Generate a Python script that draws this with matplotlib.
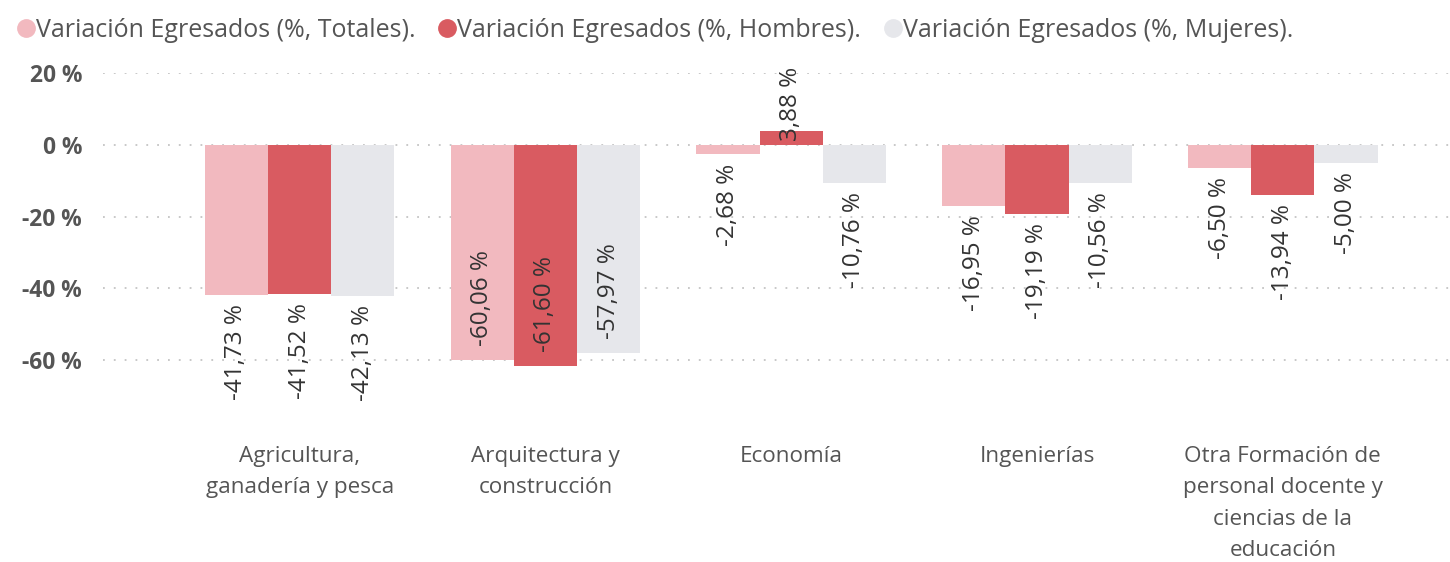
import matplotlib
matplotlib.use("Agg")
import matplotlib.pyplot as plt
from matplotlib.lines import Line2D
import numpy as np

plt.rcParams['font.family'] = ['Open Sans', 'DejaVu Sans']

categories = ["Agricultura,\nganadería y pesca", "Arquitectura y\nconstrucción", "Economía",
              "Ingenierías", "Otra Formación de\npersonal docente y\nciencias de la\neducación"]
series_names = ["Variación Egresados (%, Totales).", "Variación Egresados (%, Hombres).",
                "Variación Egresados (%, Mujeres)."]
totales = [-41.73, -60.06, -2.68, -16.95, -6.50]
hombres = [-41.52, -61.60, 3.88, -19.19, -13.94]
mujeres = [-42.13, -57.97, -10.76, -10.56, -5.00]
yticks = [20, 0, -20, -40, -60]
colors = ["#F2B9BF", "#D95B61", "#E6E7EB"]

YMIN, YMAX = -80, 20
LABEL_SPAN = 28  # approx length of a rotated label in data units

fig = plt.figure(figsize=(14.5, 5.62), dpi=100)
ax = fig.add_axes([103/1450, 1-432/562, 1-103/1450, (432-73)/562])

x = np.arange(len(categories))
w = 0.257
series = [totales, hombres, mujeres]
for i, (vals, c) in enumerate(zip(series, colors)):
    xs = x + (i - 1) * w
    ax.bar(xs, vals, width=w, color=c, zorder=2)
    for xi, v in zip(xs, vals):
        lab = f"{v:.2f}".replace(".", ",") + " %"
        if v < 0:
            if v - 2.5 - LABEL_SPAN < YMIN:
                ax.text(xi, v + 4, lab, rotation=90, ha='center', va='bottom',
                        fontsize=17.5, color='#333333', zorder=3)
            else:
                ax.text(xi, v - 2.5, lab, rotation=90, ha='center', va='top',
                        fontsize=17.5, color='#333333', zorder=3)
        else:
            ax.text(xi, 1.0, lab, rotation=90, ha='center', va='bottom',
                    fontsize=17.5, color='#333333', zorder=3)

ax.set_ylim(YMIN, YMAX)
ax.set_xlim(-0.8, 4.68)
ax.set_yticks(yticks)
ax.set_yticklabels([f"{t} %" for t in yticks], fontsize=16.4, fontweight='bold', color='#555555')
for t in yticks:
    ax.axhline(t, color='#C4C4C4', linewidth=1.3, linestyle=(0, (1, 5)), zorder=1)
ax.set_xticks(x)
ax.set_xticklabels(categories, fontsize=16.2, color='#555555', linespacing=1.65, va='top')
ax.tick_params(axis='both', length=0)
ax.tick_params(axis='x', pad=10)
ax.tick_params(axis='y', pad=15)
for s in ax.spines.values():
    s.set_visible(False)

handles = [Line2D([0], [0], marker='o', linestyle='none', markersize=12.5,
                  markerfacecolor=c, markeredgecolor=c) for c in colors]
fig.legend(handles, series_names, loc='upper left', bbox_to_anchor=(-0.0065, 1.008), ncol=3,
           frameon=False, fontsize=18, handletextpad=-0.1, columnspacing=0.78,
           labelcolor='#555555', handlelength=1.0)

fig.savefig("out.png", dpi=100)
